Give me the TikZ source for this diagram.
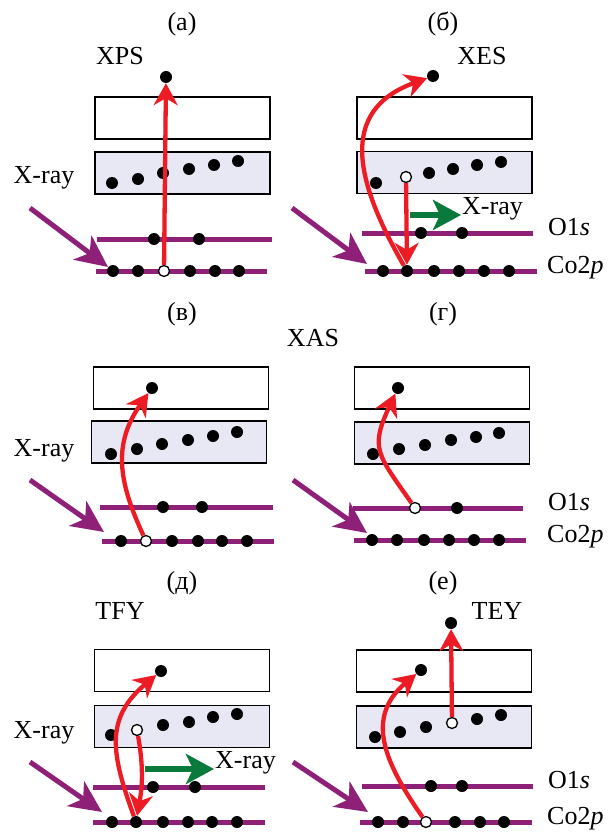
\documentclass[tikz,border=0pt]{standalone}
\usepackage{fontspec}
\setmainfont{Liberation Serif}
\usepackage{xcolor}
\usepackage{tikz}
\usetikzlibrary{arrows.meta,positioning}
\definecolor{levelpurple}{RGB}{142,32,120}
\definecolor{excred}{RGB}{237,28,36}
\definecolor{emitgreen}{RGB}{10,122,60}
\definecolor{bandfill}{RGB}{232,232,244}

\begin{document}
\begin{tikzpicture}[
    x=1pt, y=1pt,
    band/.style={
        draw,
        line width=1.4pt,
        minimum width=175pt,
        minimum height=42pt,
        inner sep=0pt
    },
    vband/.style={band, fill=bandfill},
    dot/.style={circle, fill=black, inner sep=0pt, minimum size=12pt},
    hole/.style={circle, draw=black, fill=white, line width=1.3pt, inner sep=0pt, minimum size=11pt},
    level/.style={draw=levelpurple, line width=5pt},
    lbl/.style={font=\fontsize{26}{30}\selectfont, inner sep=1pt, text height=0.7em, text depth=0.22em},
    excite/.style={draw=excred, line width=4.3pt, -{Stealth[length=22pt,width=24pt,inset=7pt]}},
    xin/.style={draw=levelpurple, line width=5pt, -{Stealth[length=32pt,width=30pt,inset=9pt]}},
    xout/.style={draw=emitgreen, line width=5.5pt, -{Stealth[length=28pt,width=30pt,inset=7pt]}}
]
\useasboundingbox (0,0) rectangle (607,-834);

% (a) XPS
\node[lbl] (pa-title) at (182,-28) {(а)};
\node[lbl] (pa-name) at (120,-62) {XPS};
\node[lbl] (pa-xray) at (44,-181) {X-ray};
\node[band] (pa-cb) at (182.5,-118) {};
\node[vband] (pa-vb) at (182.5,-173) {};
\draw[level] (97,-239) -- (272,-239);
\draw[level] (96,-271) -- (267,-271);
\coordinate (pa-src) at (30,-208);
\coordinate (pa-tgt) at (108,-267);
\draw[xin] (pa-src) -- (pa-tgt);
\node[dot] (pa-out) at (166,-77) {};
\node[dot] (pa-v1) at (112,-183) {};
\node[dot] (pa-v2) at (138,-179) {};
\node[dot] (pa-v3) at (163,-173) {};
\node[dot] (pa-v4) at (189,-169) {};
\node[dot] (pa-v5) at (214,-165) {};
\node[dot] (pa-v6) at (238,-161) {};
\node[dot] (pa-o1) at (154,-239) {};
\node[dot] (pa-o2) at (199,-239) {};
\node[dot] (pa-c1) at (113,-271) {};
\node[dot] (pa-c2) at (138,-271) {};
\node[hole] (pa-h) at (164,-271) {};
\node[dot] (pa-c4) at (190,-271) {};
\node[dot] (pa-c5) at (215,-271) {};
\node[dot] (pa-c6) at (239,-271) {};
\draw[excite] (pa-h) -- (pa-out);

% (b) XES
\node[lbl] (pb-title) at (443,-28) {(б)};
\node[lbl] (pb-name) at (482,-62) {XES};
\node[lbl, anchor=west] (pb-xray) at (461,-212) {X-ray};
\node[lbl, anchor=west] (pb-o) at (547,-233) {O1\textit{s}};
\node[lbl, anchor=west] (pb-c) at (546,-271) {Co2\textit{p}};
\node[band] (pb-cb) at (444.5,-118) {};
\node[vband] (pb-vb) at (444.5,-172.5) {};
\draw[level] (362,-233) -- (533,-233);
\draw[level] (365,-271) -- (537,-271);
\coordinate (pb-src) at (292,-208);
\coordinate (pb-tgt) at (367,-264);
\draw[xin] (pb-src) -- (pb-tgt);
\node[dot] (pb-out) at (433,-76) {};
\node[dot] (pb-v1) at (376,-183) {};
\node[hole] (pb-h) at (406,-177) {};
\node[dot] (pb-v3) at (429,-173) {};
\node[dot] (pb-v4) at (453,-169) {};
\node[dot] (pb-v5) at (477,-165) {};
\node[dot] (pb-v6) at (501,-162) {};
\node[dot] (pb-o1) at (421,-233) {};
\node[dot] (pb-o2) at (462,-233) {};
\node[dot] (pb-c1) at (383,-271) {};
\node[dot] (pb-c2) at (407,-271) {};
\node[dot] (pb-c3) at (434,-271) {};
\node[dot] (pb-c4) at (459,-271) {};
\node[dot] (pb-c5) at (484,-271) {};
\node[dot] (pb-c6) at (509,-271) {};
\coordinate (pb-emit) at (410,-215);
\draw[xout] (pb-emit) -- (pb-emit -| pb-xray.west);
\draw[excite] (pb-h) -- (pb-c2);
\draw[excite] (pb-c2) to[out=120, in=200, looseness=1.3] (pb-out);

% (v) XAS, Co2p edge
\node[lbl] (pv-title) at (182,-318) {(в)};
\node[lbl] (pv-name) at (313,-344) {XAS};
\node[lbl] (pv-xray) at (44,-454) {X-ray};
\node[band] (pv-cb) at (181,-388) {};
\node[vband] (pv-vb) at (179,-442) {};
\draw[level] (100,-507) -- (273,-507);
\draw[level] (102,-541) -- (274,-541);
\coordinate (pv-src) at (30,-480);
\coordinate (pv-tgt) at (104,-532);
\draw[xin] (pv-src) -- (pv-tgt);
\node[dot] (pv-out) at (152,-388) {};
\node[dot] (pv-v1) at (111,-454) {};
\node[dot] (pv-v2) at (137,-449) {};
\node[dot] (pv-v3) at (162,-444) {};
\node[dot] (pv-v4) at (188,-440) {};
\node[dot] (pv-v5) at (213,-436) {};
\node[dot] (pv-v6) at (237,-432) {};
\node[dot] (pv-o1) at (163,-507) {};
\node[dot] (pv-o2) at (202,-507) {};
\node[dot] (pv-c1) at (121,-541) {};
\node[hole] (pv-h) at (146,-541) {};
\node[dot] (pv-c3) at (172,-541) {};
\node[dot] (pv-c4) at (198,-541) {};
\node[dot] (pv-c5) at (222,-541) {};
\node[dot] (pv-c6) at (247,-541) {};
\draw[excite] (pv-h) to[out=115, in=235, looseness=1.1] (pv-out);

% (g) XAS, O1s edge
\node[lbl] (pg-title) at (443,-318) {(г)};
\node[lbl, anchor=west] (pg-o) at (547,-508) {O1\textit{s}};
\node[lbl, anchor=west] (pg-c) at (546,-540) {Co2\textit{p}};
\node[band] (pg-cb) at (442,-388) {};
\node[vband] (pg-vb) at (442,-443) {};
\draw[level] (353,-508) -- (523,-508);
\draw[level] (354,-540) -- (526,-540);
\coordinate (pg-src) at (293,-480);
\coordinate (pg-tgt) at (367,-533);
\draw[xin] (pg-src) -- (pg-tgt);
\node[dot] (pg-out) at (398,-388) {};
\node[dot] (pg-v1) at (373,-454) {};
\node[dot] (pg-v2) at (399,-449) {};
\node[dot] (pg-v3) at (425,-445) {};
\node[dot] (pg-v4) at (451,-440) {};
\node[dot] (pg-v5) at (476,-437) {};
\node[dot] (pg-v6) at (499,-433) {};
\node[hole] (pg-h) at (415,-508) {};
\node[dot] (pg-o2) at (457,-508) {};
\node[dot] (pg-c1) at (372,-540) {};
\node[dot] (pg-c2) at (397,-540) {};
\node[dot] (pg-c3) at (424,-540) {};
\node[dot] (pg-c4) at (449,-540) {};
\node[dot] (pg-c5) at (474,-540) {};
\node[dot] (pg-c6) at (499,-540) {};
\draw[excite] (pg-h) to[out=125, in=245, looseness=1.4] (pg-out);

% (d) TFY
\node[lbl] (pd-title) at (182,-587) {(д)};
\node[lbl] (pd-name) at (120,-617) {TFY};
\node[lbl] (pd-xray) at (44,-736) {X-ray};
\node[lbl, anchor=west] (pd-emitlbl) at (214,-766) {X-ray};
\node[band] (pd-cb) at (182,-670.5) {};
\node[vband] (pd-vb) at (182,-726.5) {};
\draw[level] (93,-787) -- (265,-787);
\draw[level] (93,-822) -- (265,-822);
\coordinate (pd-src) at (30,-762);
\coordinate (pd-tgt) at (102,-812);
\draw[xin] (pd-src) -- (pd-tgt);
\node[dot] (pd-out) at (161,-671) {};
\node[dot] (pd-v1) at (111,-735) {};
\node[hole] (pd-h) at (137,-730) {};
\node[dot] (pd-v3) at (163,-725) {};
\node[dot] (pd-v4) at (189,-722) {};
\node[dot] (pd-v5) at (213,-717) {};
\node[dot] (pd-v6) at (237,-714) {};
\node[dot] (pd-o1) at (153,-787) {};
\node[dot] (pd-o2) at (195,-787) {};
\node[dot] (pd-c1) at (112,-822) {};
\node[dot] (pd-c2) at (136,-822) {};
\node[dot] (pd-c3) at (163,-822) {};
\node[dot] (pd-c4) at (188,-822) {};
\node[dot] (pd-c5) at (212,-822) {};
\node[dot] (pd-c6) at (237,-822) {};
\coordinate (pd-emit) at (145,-769);
\draw[xout] (pd-emit) -- (pd-emit -| pd-emitlbl.west);
\draw[excite] (pd-c2) to[out=110, in=220, looseness=1.2] (pd-out);
\draw[excite] (pd-h) to[out=-80, in=80] (pd-c2);

% (e) TEY
\node[lbl] (pe-title) at (443,-587) {(е)};
\node[lbl] (pe-name) at (497,-617) {TEY};
\node[lbl, anchor=west] (pe-o) at (547,-786) {O1\textit{s}};
\node[lbl, anchor=west] (pe-c) at (546,-822) {Co2\textit{p}};
\node[band] (pe-cb) at (444,-671) {};
\node[vband] (pe-vb) at (444,-727) {};
\draw[level] (362,-786) -- (533,-786);
\draw[level] (360,-822) -- (532,-822);
\coordinate (pe-src) at (293,-762);
\coordinate (pe-tgt) at (368,-812);
\draw[xin] (pe-src) -- (pe-tgt);
\node[dot] (pe-out) at (451,-623) {};
\node[dot] (pe-in) at (421,-670) {};
\node[dot] (pe-v1) at (375,-737) {};
\node[dot] (pe-v2) at (400,-732) {};
\node[dot] (pe-v3) at (426,-727) {};
\node[hole] (pe-h1) at (452,-723) {};
\node[dot] (pe-v5) at (477,-719) {};
\node[dot] (pe-v6) at (501,-715) {};
\node[dot] (pe-o1) at (431,-786) {};
\node[dot] (pe-o2) at (462,-786) {};
\node[dot] (pe-c1) at (378,-822) {};
\node[dot] (pe-c2) at (403,-822) {};
\node[hole] (pe-h2) at (426,-822) {};
\node[dot] (pe-c4) at (455,-822) {};
\node[dot] (pe-c5) at (480,-822) {};
\node[dot] (pe-c6) at (504,-822) {};
\draw[excite] (pe-h1) -- (pe-out);
\draw[excite] (pe-h2) to[out=125, in=220, looseness=1.2] (pe-in);
\end{tikzpicture}
\end{document}
